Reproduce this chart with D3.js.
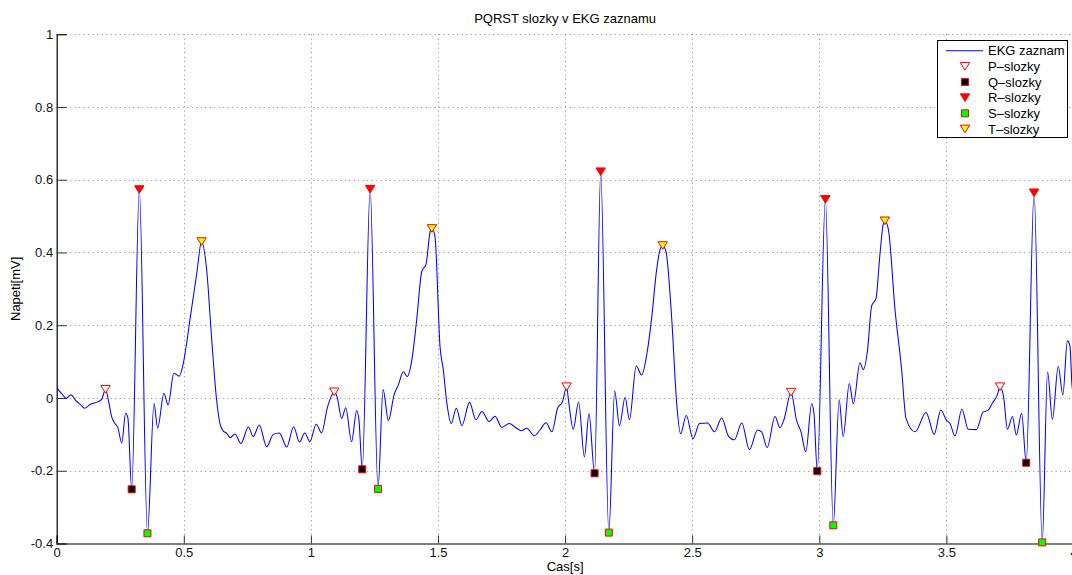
<!DOCTYPE html>
<html>
<head>
<meta charset="utf-8">
<script src="https://cdn.jsdelivr.net/npm/d3@7"></script>
<style>
  body { margin: 0; background: #fff; }
  svg { display: block; font-family: "Liberation Sans", Arial, Helvetica, sans-serif; }
</style>
</head>
<body>
<svg id="chart" width="1072" height="575"></svg>
<script>
// ECG recording: time [s] and voltage [mV]
const timeS = [
  0, 0.022, 0.037, 0.056, 0.075, 0.092, 0.111, 0.131, 0.164, 0.177,
  0.192, 0.203, 0.216, 0.229, 0.240, 0.256, 0.271, 0.280, 0.295, 0.325,
  0.357, 0.383, 0.397, 0.422, 0.438, 0.461, 0.482, 0.498, 0.513, 0.524,
  0.551, 0.570, 0.590, 0.610, 0.629, 0.642, 0.655, 0.669, 0.682, 0.701,
  0.725, 0.754, 0.773, 0.797, 0.826, 0.852, 0.876, 0.905, 0.932, 0.955,
  0.976, 0.996, 1.021, 1.042, 1.065, 1.079, 1.092, 1.103, 1.121, 1.137,
  1.160, 1.180, 1.189, 1.202, 1.233, 1.264, 1.284, 1.305, 1.327, 1.344,
  1.364, 1.379, 1.397, 1.416, 1.436, 1.453, 1.469, 1.476, 1.488, 1.508,
  1.521, 1.535, 1.552, 1.572, 1.594, 1.624, 1.649, 1.673, 1.701, 1.724,
  1.751, 1.780, 1.805, 1.828, 1.849, 1.879, 1.901, 1.925, 1.948, 1.970,
  1.990, 2.006, 2.013, 2.032, 2.053, 2.076, 2.094, 2.116, 2.140, 2.172,
  2.195, 2.214, 2.236, 2.253, 2.280, 2.301, 2.323, 2.341, 2.360, 2.373,
  2.384, 2.397, 2.419, 2.439, 2.454, 2.477, 2.503, 2.529, 2.560, 2.588,
  2.616, 2.642, 2.666, 2.695, 2.725, 2.757, 2.773, 2.795, 2.826, 2.845,
  2.862, 2.889, 2.910, 2.928, 2.947, 2.970, 2.979, 2.992, 3.024, 3.055,
  3.078, 3.094, 3.118, 3.134, 3.160, 3.173, 3.189, 3.206, 3.223, 3.239,
  3.252, 3.258, 3.272, 3.298, 3.324, 3.341, 3.377, 3.420, 3.452, 3.478,
  3.500, 3.514, 3.534, 3.561, 3.586, 3.618, 3.644, 3.663, 3.682, 3.700,
  3.711, 3.725, 3.740, 3.760, 3.775, 3.796, 3.814, 3.845, 3.877, 3.898,
  3.917, 3.940, 3.958, 3.976, 3.986, 3.994, 4.0
];
const voltageMv = [
  0.028, 0.010, -0.001, 0.009, -0.007, -0.017, -0.028, -0.018, -0.010, -0.004,
  0.024, -0.005, -0.051, -0.070, -0.080, -0.124, -0.042, -0.055, -0.251, 0.573,
  -0.372, -0.015, -0.083, 0.013, -0.019, 0.068, 0.060, 0.095, 0.159, 0.214,
  0.343, 0.430, 0.352, 0.159, -0.005, -0.070, -0.091, -0.097, -0.109, -0.099,
  -0.125, -0.080, -0.106, -0.074, -0.134, -0.100, -0.096, -0.135, -0.079, -0.121,
  -0.096, -0.120, -0.072, -0.096, -0.026, 0.003, 0.017, 0.003, -0.056, -0.027,
  -0.120, -0.035, -0.060, -0.196, 0.574, -0.250, 0.023, -0.062, 0.008, 0.036,
  0.072, 0.059, 0.104, 0.214, 0.347, 0.368, 0.457, 0.466, 0.445, 0.141,
  0.077, -0.015, -0.070, -0.028, -0.076, -0.012, -0.060, -0.037, -0.065, -0.050,
  -0.081, -0.070, -0.081, -0.090, -0.083, -0.104, -0.088, -0.068, -0.093, -0.029,
  -0.010, 0.031, -0.004, -0.086, -0.011, -0.162, -0.043, -0.207, 0.622, -0.370,
  0.019, -0.076, 0.002, -0.060, 0.088, 0.063, 0.127, 0.223, 0.352, 0.407,
  0.419, 0.402, 0.223, -0.015, -0.098, -0.048, -0.112, -0.070, -0.069, -0.093,
  -0.055, -0.104, -0.115, -0.069, -0.142, -0.088, -0.093, -0.136, -0.051, -0.082,
  -0.057, 0.016, -0.060, -0.093, -0.148, -0.016, -0.042, -0.201, 0.546, -0.350,
  -0.005, -0.106, 0.040, -0.016, 0.097, 0.078, 0.127, 0.253, 0.274, 0.398,
  0.480, 0.487, 0.462, 0.242, 0.077, -0.056, -0.093, -0.040, -0.100, -0.033,
  -0.061, -0.070, -0.104, -0.031, -0.086, -0.087, -0.039, -0.034, -0.013, 0.008,
  0.031, 0.003, -0.086, -0.051, -0.102, -0.042, -0.178, 0.564, -0.397, 0.072,
  -0.059, 0.087, 0.008, 0.157, 0.143, 0.036, 0.010
];

// Detected waves: [time, voltage]
const pWaves = [[0.192, 0.024], [1.092, 0.017], [2.006, 0.031], [2.889, 0.016], [3.711, 0.031]];
const qWaves = [[0.295, -0.251], [1.202, -0.196], [2.116, -0.207], [2.992, -0.201], [3.814, -0.178]];
const rWaves = [[0.325, 0.573], [1.233, 0.574], [2.140, 0.622], [3.024, 0.546], [3.845, 0.564]];
const sWaves = [[0.357, -0.372], [1.264, -0.250], [2.172, -0.370], [3.055, -0.350], [3.877, -0.397]];
const tWaves = [[0.570, 0.430], [1.476, 0.466], [2.384, 0.419], [3.258, 0.487]];

const xTicks = [0, 0.5, 1, 1.5, 2, 2.5, 3, 3.5, 4];
const yTicks = [-0.4, -0.2, 0, 0.2, 0.4, 0.6, 0.8, 1];
const legendLabels = ["EKG zaznam", "P\u2013slozky", "Q\u2013slozky", "R\u2013slozky", "S\u2013slozky", "T\u2013slozky"];

const svg = d3.select("#chart");
const W = 1072, H = 575;
const plotL = 56.7, plotR = 1073.5, plotT = 34.2, plotB = 543.5;

const x = d3.scaleLinear().domain([0, 4]).range([plotL, plotR]);
const y = d3.scaleLinear().domain([-0.4, 1]).range([plotB, plotT]);

svg.append("rect").attr("width", W).attr("height", H).attr("fill", "#fff");

// dotted grid
const grid = svg.append("g").attr("stroke", "#8a8a8a").attr("stroke-width", 1)
  .attr("stroke-dasharray", "1,3.5");
grid.selectAll("line.v").data(xTicks.filter(d => d > 0)).join("line").attr("class", "v")
  .attr("x1", d => Math.round(x(d)) + 0.5).attr("x2", d => Math.round(x(d)) + 0.5)
  .attr("y1", plotT).attr("y2", plotB);
grid.selectAll("line.h").data(yTicks.filter(d => d > -0.4)).join("line").attr("class", "h")
  .attr("y1", d => Math.round(y(d)) + 0.5).attr("y2", d => Math.round(y(d)) + 0.5)
  .attr("x1", plotL).attr("x2", plotR);

// axes (ticks pointing inward)
const xAxis = d3.axisBottom(x).tickValues(xTicks).tickSize(-8).tickPadding(4)
  .tickFormat(d => String(d));
const yAxis = d3.axisLeft(y).tickValues(yTicks).tickSize(-10).tickPadding(3.5)
  .tickFormat(d => String(d));

const gx = svg.append("g").attr("transform", `translate(0,${plotB})`).call(xAxis);
gx.select(".domain").attr("stroke", "#555").attr("stroke-width", 1.6);
gx.selectAll(".tick line").attr("stroke", "#333");
gx.selectAll(".tick text").attr("font-size", 13).attr("fill", "#111")
  .attr("font-family", "Liberation Sans, Arial, sans-serif");

const gy = svg.append("g").attr("transform", `translate(${plotL},0)`).call(yAxis);
gy.select(".domain").attr("stroke", "#000").attr("stroke-width", 1.2);
gy.selectAll(".tick line").attr("stroke", "#333");
gy.selectAll(".tick text").attr("font-size", 13).attr("fill", "#111")
  .attr("font-family", "Liberation Sans, Arial, sans-serif");

// ECG trace
svg.append("defs").append("clipPath").attr("id", "plotClip")
  .append("rect").attr("x", plotL).attr("y", plotT - 10).attr("width", plotR - plotL).attr("height", plotB - plotT + 20);

const ekg = d3.zip(timeS, voltageMv);
const line = d3.line().x(d => x(d[0])).y(d => y(d[1])).curve(d3.curveMonotoneX);
svg.append("path").datum(ekg).attr("clip-path", "url(#plotClip)")
  .attr("d", line).attr("fill", "none").attr("stroke", "#0000ff").attr("stroke-width", 1.05)
  .attr("stroke-linejoin", "round");

// marker shapes
const tri = "M-4.7,-3.8L4.7,-3.8L0,3.8Z";
const sq = "M-3.5,-3.5H3.5V3.5H-3.5Z";
const markerStyles = [
  { data: pWaves, path: tri, fill: "#ffffff" },
  { data: qWaves, path: sq, fill: "#000000" },
  { data: rWaves, path: tri, fill: "#ff0000" },
  { data: sWaves, path: sq, fill: "#00ff00" },
  { data: tWaves, path: tri, fill: "#ffff00" }
];
markerStyles.forEach(m => {
  svg.append("g").selectAll("path").data(m.data).join("path")
    .attr("transform", d => `translate(${x(d[0])},${y(d[1])})`)
    .attr("d", m.path).attr("fill", m.fill).attr("stroke", "#ff0000").attr("stroke-width", 1);
});

// legend
const lg = svg.append("g");
lg.append("rect").attr("x", 937.5).attr("y", 40.5).attr("width", 130).attr("height", 97)
  .attr("fill", "#fff").attr("stroke", "#000").attr("stroke-width", 1);
const rowY = i => 50.7 + i * 15.65;
lg.append("line").attr("x1", 946).attr("x2", 983).attr("y1", rowY(0)).attr("y2", rowY(0))
  .attr("stroke", "#0000ff").attr("stroke-width", 1.1);
markerStyles.forEach((m, i) => {
  lg.append("path").attr("transform", `translate(965,${rowY(i + 1)})`)
    .attr("d", m.path).attr("fill", m.fill).attr("stroke", "#ff0000").attr("stroke-width", 1);
});
lg.selectAll("text").data(legendLabels).join("text")
  .attr("x", 988).attr("y", (d, i) => rowY(i)).attr("dy", "0.36em")
  .attr("font-size", 13).attr("fill", "#000").text(d => d);

// title and axis labels
svg.append("text").attr("x", (plotL + plotR) / 2).attr("y", 18).attr("dy", "0.36em")
  .attr("text-anchor", "middle").attr("font-size", 13).attr("fill", "#000")
  .text("PQRST slozky v EKG zaznamu");
svg.append("text").attr("x", (plotL + plotR) / 2).attr("y", 566).attr("dy", "0.36em")
  .attr("text-anchor", "middle").attr("font-size", 13).attr("fill", "#000").text("Cas[s]");
svg.append("text").attr("transform", `translate(15,${(plotT + plotB) / 2}) rotate(-90)`)
  .attr("dy", "0.36em").attr("text-anchor", "middle").attr("font-size", 13).attr("fill", "#000")
  .text("Napeti[mV]");
</script>
</body>
</html>
